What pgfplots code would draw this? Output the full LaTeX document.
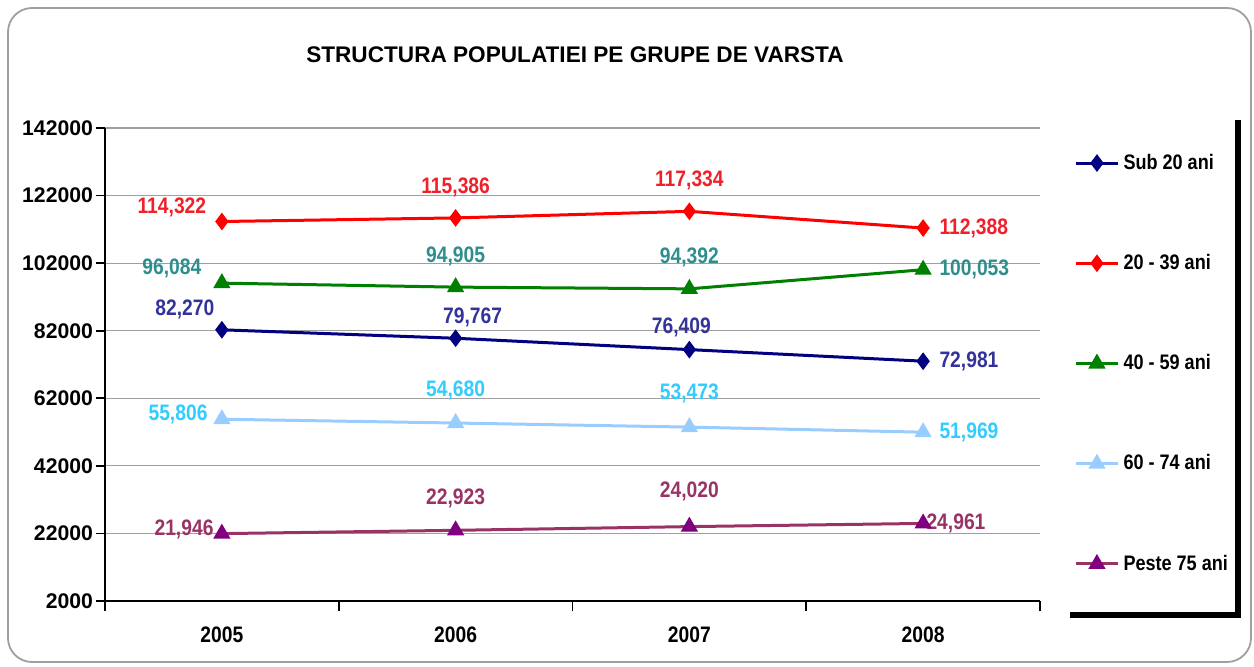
\documentclass[border=0pt]{standalone}
\usepackage{pgfplots}
\pgfplotsset{compat=1.18}
\usepackage{fontspec}
\setmainfont{Liberation Sans}
\newfontfamily\narrowfont[FakeStretch=0.86]{Liberation Sans}
\definecolor{cnavy}{HTML}{000080}
\definecolor{cred}{HTML}{FF0000}
\definecolor{cgreen}{HTML}{008000}
\definecolor{clblue}{HTML}{99CCFF}
\definecolor{cpurpl}{HTML}{993366}
\definecolor{cpurplm}{HTML}{800080}
\definecolor{tnavy}{HTML}{333399}
\definecolor{tred}{HTML}{F0202A}
\definecolor{tgreen}{HTML}{2E8E8E}
\definecolor{tlblue}{HTML}{33CCFF}
\definecolor{tpurpl}{HTML}{993366}
\tikzset{lbl/.style={font=\narrowfont\bfseries\fontsize{11.2}{13}\selectfont, inner sep=0pt}}
\begin{document}
\begin{tikzpicture}
\path[use as bounding box] (0,0) rectangle (627pt,333pt);
\draw[gray!75, line width=0.9pt, rounded corners=12pt] (4pt,2pt) rectangle (625.5pt,329pt);
\node[font=\bfseries\fontsize{11.3}{13}\selectfont] at (287.5pt,305.5pt) {STRUCTURA POPULATIEI PE GRUPE DE VARSTA};
\begin{axis}[
  at={(52.5pt,32.5pt)}, anchor=south west,
  scale only axis, width=467.5pt, height=236.5pt,
  xmin=-0.5, xmax=3.5, ymin=2000, ymax=142000,
  scaled y ticks=false,
  ytick={2000,22000,42000,62000,82000,102000,122000,142000},
  yticklabels={2000,22000,42000,62000,82000,102000,122000,142000},
  ymajorgrids, grid style={gray!75, line width=0.6pt},
  axis x line*=bottom, axis y line*=left,
  axis line style={-, black, line width=0.9pt},
  tick align=outside, major tick length=4.5pt,
  ytick style={black, line width=0.9pt},
  yticklabel style={font=\bfseries\fontsize{10.6}{12}\selectfont, xshift=2pt},
  xtick={0,1,2,3}, xticklabels={2005,2006,2007,2008},
  xtick style={draw=none},
  xticklabel style={font=\narrowfont\bfseries\fontsize{11.2}{13}\selectfont, yshift=-5pt},
  extra x ticks={-0.5,0.5,1.5,2.5,3.5}, extra x tick labels={,,,,},
  extra x tick style={xtick style={draw=black, line width=0.9pt}, major tick length=5pt},
  legend style={draw=none, fill=none, at={(1,0.5)}, anchor=west, xshift=17pt, yshift=0.5pt,
    font=\narrowfont\bfseries\fontsize{10.5}{12}\selectfont, row sep=37pt, inner xsep=0pt},
  legend cell align=left,
  legend image code/.code={\draw[#1, mark repeat=2, mark phase=2] plot coordinates {(0cm,0cm) (0.37cm,0cm) (0.74cm,0cm)};},
]
\addplot[cnavy, line width=1.5pt, mark=diamond*, mark size=3.2pt, mark options={solid}] coordinates {(0,82270)(1,79767)(2,76409)(3,72981)};
\addlegendentry{Sub 20 ani}
\addplot[cred, line width=1.5pt, mark=diamond*, mark size=3.2pt, mark options={solid}] coordinates {(0,114322)(1,115386)(2,117334)(3,112388)};
\addlegendentry{20 - 39 ani}
\addplot[cgreen, line width=1.5pt, mark=triangle*, mark size=3.5pt, mark options={solid}] coordinates {(0,96084)(1,94905)(2,94392)(3,100053)};
\addlegendentry{40 - 59 ani}
\addplot[clblue, line width=1.5pt, mark=triangle*, mark size=3.5pt, mark options={solid}] coordinates {(0,55806)(1,54680)(2,53473)(3,51969)};
\addlegendentry{60 - 74 ani}
\addplot[cpurpl, line width=1.5pt, mark=triangle*, mark size=3.5pt, mark options={solid, fill=cpurplm, draw=cpurplm}] coordinates {(0,21946)(1,22923)(2,24020)(3,24961)};
\addlegendentry{Peste 75 ani}
% labels: red
\node[lbl, text=tred, xshift=-25pt, yshift=7pt] at (axis cs:0,114322) {114,322};
\node[lbl, text=tred, yshift=15.5pt] at (axis cs:1,115386) {115,386};
\node[lbl, text=tred, yshift=15.5pt] at (axis cs:2,117334) {117,334};
\node[lbl, text=tred, anchor=west, xshift=8pt] at (axis cs:3,112388) {112,388};
% green
\node[lbl, text=tgreen, xshift=-25pt, yshift=7.5pt] at (axis cs:0,96084) {96,084};
\node[lbl, text=tgreen, yshift=15.5pt] at (axis cs:1,94905) {94,905};
\node[lbl, text=tgreen, yshift=15.5pt] at (axis cs:2,94392) {94,392};
\node[lbl, text=tgreen, anchor=west, xshift=8pt] at (axis cs:3,100053) {100,053};
% navy
\node[lbl, text=tnavy, xshift=-18.5pt, yshift=10pt] at (axis cs:0,82270) {82,270};
\node[lbl, text=tnavy, xshift=8.5pt, yshift=10.5pt] at (axis cs:1,79767) {79,767};
\node[lbl, text=tnavy, xshift=-4pt, yshift=11pt] at (axis cs:2,76409) {76,409};
\node[lbl, text=tnavy, anchor=west, xshift=8pt] at (axis cs:3,72981) {72,981};
% light blue
\node[lbl, text=tlblue, anchor=east, xshift=-7pt, yshift=2.5pt] at (axis cs:0,55806) {55,806};
\node[lbl, text=tlblue, yshift=16.5pt] at (axis cs:1,54680) {54,680};
\node[lbl, text=tlblue, yshift=17pt] at (axis cs:2,53473) {53,473};
\node[lbl, text=tlblue, anchor=west, xshift=8pt] at (axis cs:3,51969) {51,969};
% purple
\node[lbl, text=tpurpl, anchor=east, xshift=-4pt, yshift=2pt] at (axis cs:0,21946) {21,946};
\node[lbl, text=tpurpl, yshift=16pt] at (axis cs:1,22923) {22,923};
\node[lbl, text=tpurpl, yshift=17.5pt] at (axis cs:2,24020) {24,020};
\node[lbl, text=tpurpl, anchor=west, xshift=1.5pt] at (axis cs:3,24961) {24,961};
\end{axis}
\draw[line width=3pt, miter limit=10] (535pt,25.5pt) -- (619pt,25.5pt) -- (619pt,273pt);
\end{tikzpicture}
\end{document}
